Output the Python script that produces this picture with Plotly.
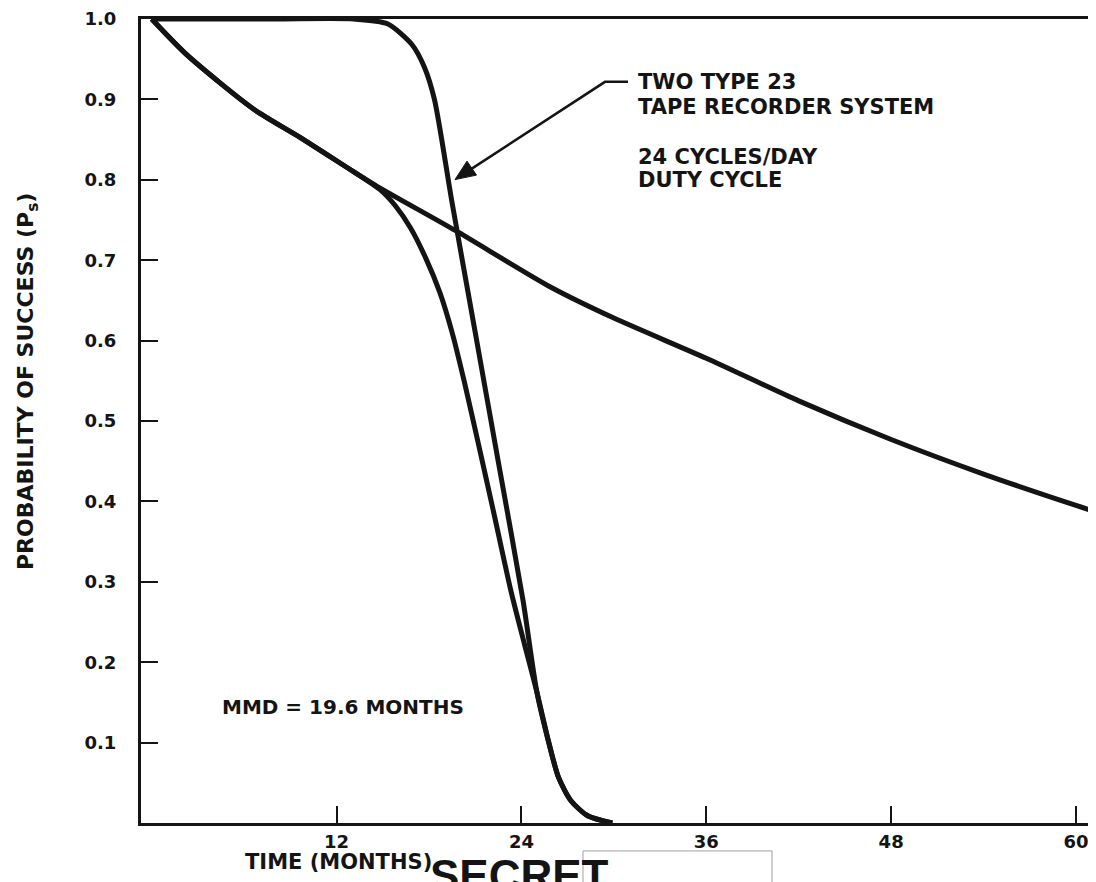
import plotly.graph_objects as go

# ---- data (months, probability of success) ----
single_t = [0, 2.3, 6.6, 9.6, 12.7, 14.8, 19.7, 25.85, 30, 36, 42, 48, 54, 60, 61.3]
single_p = [1.0, 0.955, 0.888, 0.853, 0.815, 0.790, 0.737, 0.667, 0.628, 0.578, 0.525, 0.477, 0.434, 0.395, 0.387]

two_t = [0, 8, 13.1, 15.3, 16.9, 17.7, 18.35, 19.5, 21.0, 22.5, 24.1, 25.0, 25.8, 26.4, 27.2, 28.3, 29.9]
two_p = [1.0, 1.0, 1.0, 0.994, 0.968, 0.94, 0.9, 0.771, 0.61, 0.449, 0.277, 0.163, 0.098, 0.057, 0.028, 0.009, 0.0]

lower_t = [0, 2.3, 6.6, 9.6, 12.7, 14.8, 15.8, 16.8, 17.8, 18.7, 19.5, 20.3, 21.2, 22.2, 23.3, 24.2,
           25.0, 25.8, 26.4, 27.2, 28.3, 29.9]
lower_p = [1.0, 0.955, 0.888, 0.853, 0.815, 0.788, 0.768, 0.740, 0.702, 0.66, 0.61, 0.548, 0.472, 0.386, 0.29, 0.222,
           0.163, 0.098, 0.057, 0.028, 0.009, 0.0]

x_ticks = [12, 24, 36, 48, 60]
y_ticks = [0.1, 0.2, 0.3, 0.4, 0.5, 0.6, 0.7, 0.8, 0.9, 1.0]
y_tick_text = ["0.1", "0.2", "0.3", "0.4", "0.5", "0.6", "0.7", "0.8", "0.9", "1.0"]

INK = "#141414"
FONT = "DejaVu Sans"

fig = go.Figure()
line_style = dict(color=INK, width=5, shape="spline", smoothing=0.7)
fig.add_trace(go.Scatter(x=single_t, y=single_p, mode="lines", line=line_style,
                         name="Single recorder", showlegend=False, hoverinfo="skip"))
fig.add_trace(go.Scatter(x=lower_t, y=lower_p, mode="lines", line=line_style,
                         name="Two recorders (lower)", showlegend=False, hoverinfo="skip"))
fig.add_trace(go.Scatter(x=two_t, y=two_p, mode="lines", line=line_style,
                         name="Two Type 23 tape recorder system", showlegend=False, hoverinfo="skip"))

# the page body adds an 8px margin, so the figure is 8px smaller than the window
OFF = 8
W, H = 1096 - OFF, 882 - OFF
L, T, B, R = 141 - OFF, 17 - OFF, 882 - 823, 0

fig.update_layout(
    width=W, height=H,
    margin=dict(l=L, r=R, t=T, b=B, pad=0),
    paper_bgcolor="white", plot_bgcolor="white",
    showlegend=False,
    xaxis=dict(range=[-0.7, 61.3], tickvals=x_ticks, ticktext=[str(v) for v in x_ticks],
               ticks="inside", ticklen=17, tickwidth=2, tickcolor=INK,
               showline=True, linewidth=3, linecolor=INK, mirror=True,
               showgrid=False, zeroline=False, ticklabelstandoff=0,
               ticklabeloverflow="allow",
               tickfont=dict(family=FONT, size=18, color=INK, weight="bold")),
    yaxis=dict(range=[0, 1.0], tickvals=y_ticks, ticktext=y_tick_text,
               ticks="inside", ticklen=17, tickwidth=2, tickcolor=INK,
               showline=True, linewidth=3, linecolor=INK, mirror=False,
               showgrid=False, zeroline=False, ticklabelstandoff=18,
               ticklabeloverflow="allow",
               tickfont=dict(family=FONT, size=18, color=INK, weight="bold")),
)

# helpers: page pixel -> paper fraction
def px_x(px):
    return (px - 141) / 955.0

def px_y(py):
    return (823 - py) / 806.0

anno_font = dict(family=FONT, size=21, color=INK, weight="bold")

# right-hand labels
for txt, py in [("TWO TYPE 23", 80), ("TAPE RECORDER SYSTEM", 105),
                ("24 CYCLES/DAY", 155), ("DUTY CYCLE", 178)]:
    fig.add_annotation(xref="paper", yref="paper", x=px_x(636), y=px_y(py),
                       text=txt, showarrow=False, xanchor="left", yanchor="middle",
                       font=anno_font)

# leader line + arrow (drawn as shapes)
tip = (455, 178)
bend = (605, 80)
fig.add_shape(type="path", xref="paper", yref="paper",
              path=f"M {px_x(628)} {px_y(80)} L {px_x(bend[0])} {px_y(bend[1])} L {px_x(468)} {px_y(169.5)}",
              line=dict(color=INK, width=2.5))
fig.add_shape(type="path", xref="paper", yref="paper",
              path=(f"M {px_x(tip[0])} {px_y(tip[1])} L {px_x(476.5)} {px_y(173.5)} "
                    f"L {px_x(467.0)} {px_y(159.5)} Z"),
              line=dict(color=INK, width=1), fillcolor=INK)

fig.add_annotation(xref="paper", yref="paper", x=px_x(220), y=px_y(707),
                   text="MMD = 19.6 MONTHS", showarrow=False, xanchor="left",
                   yanchor="middle", font=dict(family=FONT, size=20, color=INK, weight="bold"))

# axis titles
fig.add_annotation(xref="paper", yref="paper", x=px_x(27), y=px_y(380),
                   text="PROBABILITY OF SUCCESS (P<sub>s</sub>)", showarrow=False,
                   textangle=-90, xanchor="center", yanchor="middle",
                   font=dict(family=FONT, size=22, color=INK, weight="bold"))
fig.add_annotation(xref="paper", yref="paper", x=px_x(243), y=px_y(862),
                   text="TIME (MONTHS)", showarrow=False, xanchor="left",
                   yanchor="middle",
                   font=dict(family=FONT, size=21, color=INK, weight="bold"))

# partially visible stamp and box at the bottom
fig.add_annotation(xref="paper", yref="paper", x=px_x(428), y=px_y(849),
                   text="SECRET", showarrow=False, xanchor="left", yanchor="top",
                   font=dict(family="Liberation Sans", size=44, color=INK, weight="bold"))
fig.add_shape(type="rect", xref="paper", yref="paper",
              x0=px_x(583), x1=px_x(772), y0=px_y(851), y1=px_y(890),
              line=dict(color="#a0a0a0", width=1), fillcolor="white")

fig.write_html("out.html")
